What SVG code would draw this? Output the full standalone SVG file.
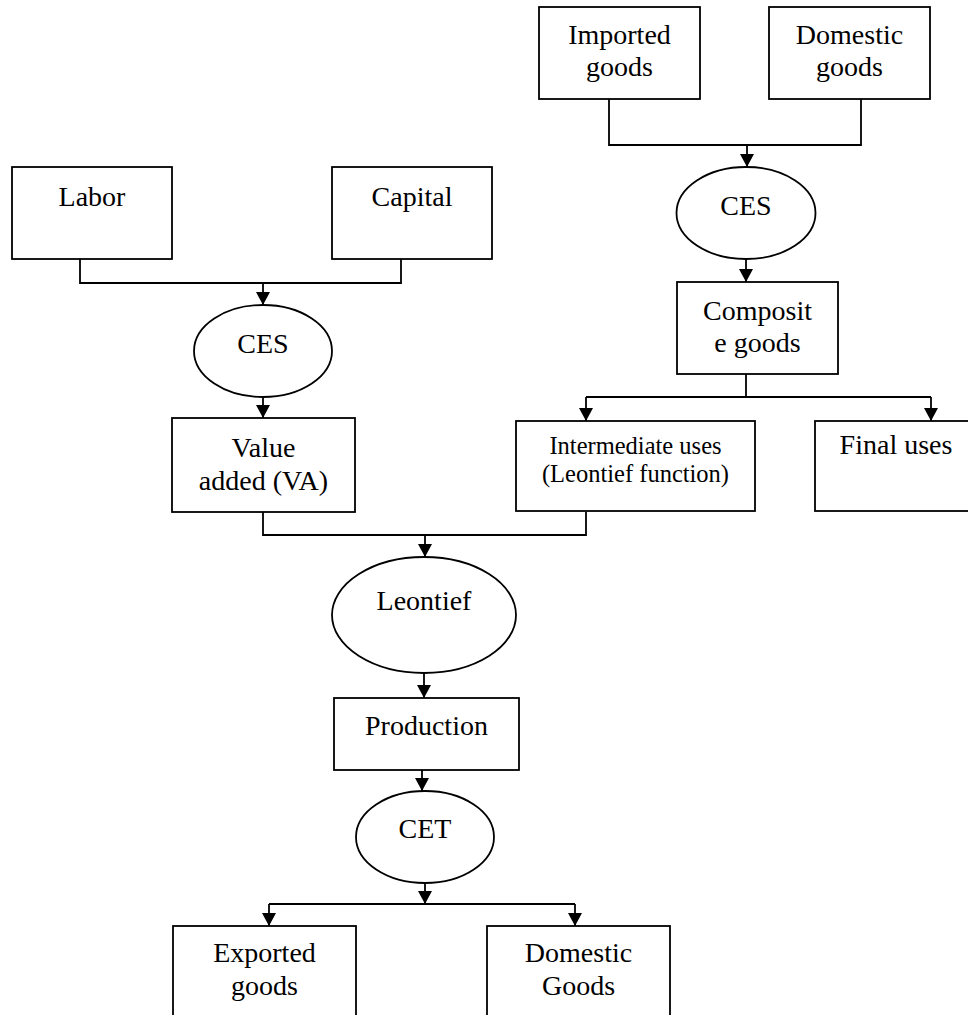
<svg xmlns="http://www.w3.org/2000/svg" width="968" height="1015" viewBox="0 0 968 1015">
<style>
.box{fill:#fff;stroke:#000;stroke-width:1.8}
.ell{fill:#fff;stroke:#000;stroke-width:1.8}
.t{font-family:"Liberation Serif","Times New Roman",serif;font-size:28px;fill:#000;text-anchor:middle}
.s{font-size:24.5px}
.c{fill:none;stroke:#000;stroke-width:1.8}
</style>
<defs>
<marker id="arr" markerUnits="userSpaceOnUse" markerWidth="14" markerHeight="14" refX="13" refY="7" orient="auto">
<path d="M0,0 L13,7 L0,14 z" fill="#000"/>
</marker>
</defs>
<rect width="968" height="1015" fill="#fff"/>
<g id="connectors">
<path class="c" d="M609,99 V145 H861 V99"/>
<path class="c" d="M747,145 V167" marker-end="url(#arr)"/>
<path class="c" d="M746,259 V282" marker-end="url(#arr)"/>
<path class="c" d="M746,374 V397"/>
<path class="c" d="M586,397 H931"/>
<path class="c" d="M586,397 V421" marker-end="url(#arr)"/>
<path class="c" d="M931,397 V421" marker-end="url(#arr)"/>
<path class="c" d="M80,259 V283 H401 V259"/>
<path class="c" d="M263,283 V305" marker-end="url(#arr)"/>
<path class="c" d="M263,397 V418" marker-end="url(#arr)"/>
<path class="c" d="M263,512 V535 H586 V512"/>
<path class="c" d="M425,535 V557" marker-end="url(#arr)"/>
<path class="c" d="M424,673 V698" marker-end="url(#arr)"/>
<path class="c" d="M422,770 V791" marker-end="url(#arr)"/>
<path class="c" d="M425,883 V904" marker-end="url(#arr)"/>
<path class="c" d="M269,904 H575"/>
<path class="c" d="M269,904 V926" marker-end="url(#arr)"/>
<path class="c" d="M575,904 V926" marker-end="url(#arr)"/>
</g>
<g id="imported">
<rect class="box" x="539" y="7" width="161" height="92"/>
<text class="t" x="619.5" y="44">Imported</text>
<text class="t" x="619.5" y="76">goods</text>
</g>
<g id="domestic-goods">
<rect class="box" x="769" y="7" width="161" height="92"/>
<text class="t" x="849.5" y="44">Domestic</text>
<text class="t" x="849.5" y="76">goods</text>
</g>
<g id="ces-top">
<ellipse class="ell" cx="746" cy="213" rx="69.5" ry="46"/>
<text class="t" x="746" y="215">CES</text>
</g>
<g id="composite">
<rect class="box" x="677" y="282" width="161" height="92"/>
<text class="t" x="757.5" y="320">Composit</text>
<text class="t" x="757.5" y="352">e goods</text>
</g>
<g id="labor">
<rect class="box" x="12" y="167" width="160" height="92"/>
<text class="t" x="92" y="206">Labor</text>
</g>
<g id="capital">
<rect class="box" x="332" y="167" width="160" height="92"/>
<text class="t" x="412" y="206">Capital</text>
</g>
<g id="ces-left">
<ellipse class="ell" cx="263" cy="351" rx="69" ry="46"/>
<text class="t" x="263" y="353">CES</text>
</g>
<g id="value-added">
<rect class="box" x="172" y="418" width="183" height="94"/>
<text class="t" x="263.5" y="457">Value</text>
<text class="t" x="263.5" y="490">added (VA)</text>
</g>
<g id="intermediate">
<rect class="box" x="516" y="421" width="239" height="90"/>
<text class="t s" x="635.5" y="454">Intermediate uses</text>
<text class="t s" x="635.5" y="482">(Leontief function)</text>
</g>
<g id="final-uses">
<rect class="box" x="815" y="421" width="162" height="90"/>
<text class="t" x="896" y="454">Final uses</text>
</g>
<g id="leontief">
<ellipse class="ell" cx="424" cy="615" rx="92" ry="58"/>
<text class="t" x="424" y="610">Leontief</text>
</g>
<g id="production">
<rect class="box" x="334" y="698" width="185" height="72"/>
<text class="t" x="426.5" y="735">Production</text>
</g>
<g id="cet">
<ellipse class="ell" cx="425" cy="837" rx="69" ry="46"/>
<text class="t" x="425" y="838">CET</text>
</g>
<g id="exported">
<rect class="box" x="173" y="926" width="183" height="100"/>
<text class="t" x="264.5" y="962">Exported</text>
<text class="t" x="264.5" y="995">goods</text>
</g>
<g id="domestic-out">
<rect class="box" x="487" y="926" width="183" height="100"/>
<text class="t" x="578.5" y="962">Domestic</text>
<text class="t" x="578.5" y="995">Goods</text>
</g>
</svg>
